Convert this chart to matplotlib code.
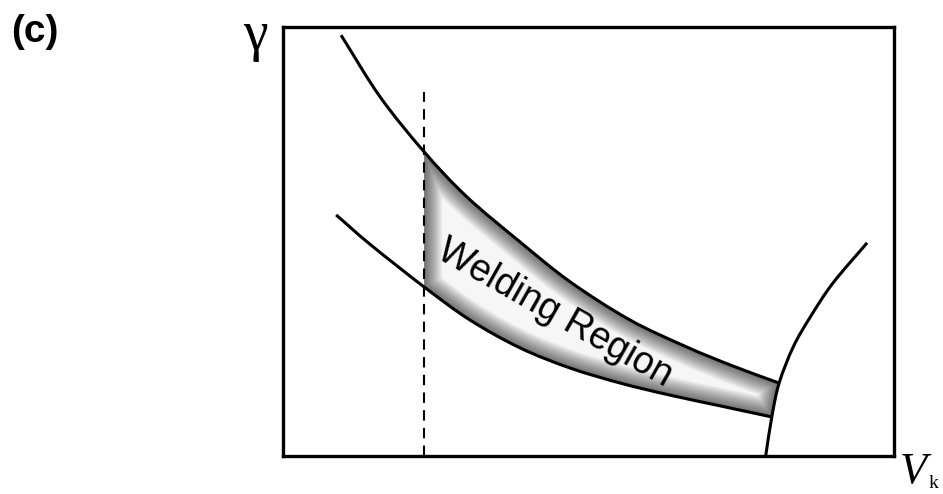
import numpy as np
import matplotlib.pyplot as plt
from matplotlib.path import Path
from matplotlib.patches import PathPatch

# curves (axes run 0..10 on both sides)
upper_x = [0.95, 1.59, 2.31, 3.01, 3.88, 4.70, 5.68, 6.61, 7.36, 8.12]
upper_y = [9.81, 8.37, 7.09, 6.04, 4.99, 4.06, 3.17, 2.54, 2.10, 1.70]

lower_x = [0.87, 1.42, 2.31, 3.06, 3.88, 4.70, 5.52, 6.33, 7.15, 8.00]
lower_y = [5.62, 4.94, 3.94, 3.17, 2.52, 2.05, 1.70, 1.42, 1.17, 0.91]

right_x = [7.90, 8.00, 8.12, 8.35, 8.63, 9.00, 9.56]
right_y = [0.00, 0.91, 1.70, 2.54, 3.24, 4.03, 4.97]

dash_x = 2.31
dash_top = 8.48

region_label = "Welding Region"


def bezier_segments(xs, ys):
    # Catmull-Rom tangents -> cubic bezier control points for each span
    p = np.column_stack([xs, ys]).astype(float)
    n = len(p)
    t = np.zeros_like(p)
    t[1:-1] = (p[2:] - p[:-2]) / 2
    t[0] = p[1] - p[0]
    t[-1] = p[-1] - p[-2]
    segs = []
    for i in range(n - 1):
        segs.append((p[i], p[i] + t[i] / 3, p[i + 1] - t[i + 1] / 3, p[i + 1]))
    return segs


def seg_path(segs, reverse=False, start=True):
    verts, codes = [], []
    if reverse:
        segs = [(s[3], s[2], s[1], s[0]) for s in segs[::-1]]
    for k, s in enumerate(segs):
        if k == 0 and start:
            verts.append(s[0])
            codes.append(Path.MOVETO)
        verts += [s[1], s[2], s[3]]
        codes += [Path.CURVE4] * 3
    return verts, codes


up_segs = bezier_segments(upper_x, upper_y)
lo_segs = bezier_segments(lower_x, lower_y)
rt_segs = bezier_segments(right_x, right_y)

fig = plt.figure(figsize=(9.43, 4.94), dpi=100)
ax = fig.add_axes([283 / 943, 38 / 494, 611 / 943, 429 / 494])
ax.set_xlim(0, 10)
ax.set_ylim(0, 10)
ax.set_xticks([])
ax.set_yticks([])
for s in ax.spines.values():
    s.set_linewidth(2.4)

# shaded band: upper curve from the dashed line, down the right curve,
# back along the lower curve, then up the dashed line
i0 = upper_x.index(dash_x)
j0 = lower_x.index(dash_x)
v1, c1 = seg_path(up_segs[i0:])
v2, c2 = seg_path(rt_segs[1:2], reverse=True, start=False)
v3, c3 = seg_path(lo_segs[j0:], reverse=True, start=False)
band_path = Path(v1 + v2 + v3 + [v1[0]], c1 + c2 + c3 + [Path.LINETO])

band = PathPatch(band_path, facecolor="#f6f6f6", edgecolor="none", zorder=1)
ax.add_patch(band)
# soft inner shadow: stack thin translucent strokes, clipped to the band
for lw in np.arange(26, 1, -1.5):
    edge = PathPatch(band_path, facecolor="none", edgecolor="black", lw=lw,
                     alpha=0.04, joinstyle="round", zorder=2)
    ax.add_patch(edge)
    edge.set_clip_path(band)

for segs in (up_segs, lo_segs, rt_segs):
    v, c = seg_path(segs)
    ax.add_patch(PathPatch(Path(v, c), facecolor="none", edgecolor="black",
                           lw=2.2, capstyle="butt", zorder=3))

ax.plot([dash_x, dash_x], [0, dash_top], color="black", lw=1.5,
        dashes=(5, 3.5), zorder=3)

ax.text(4.44, 3.32, region_label, rotation=-29.5, rotation_mode="anchor",
        ha="center", va="center", fontsize=27, family="Liberation Sans", zorder=4)

fig.text(11 / 943, 1 - 32 / 494, "(c)", fontsize=28, fontweight="bold",
         family="Liberation Sans", ha="left", va="center")
fig.text(255 / 943, 1 - 36 / 494, "γ", fontsize=40, family="Liberation Serif",
         ha="center", va="center")

# V with a small upright k right after it
v_txt = fig.text(900 / 943, 1 - 492 / 494, "V", fontsize=32, style="italic",
                 family="Liberation Serif", ha="left", va="bottom")
fig.canvas.draw()
v_box = v_txt.get_window_extent().transformed(fig.transFigure.inverted())
fig.text(v_box.x1 + 1 / 943, 1 - 492 / 494, "k", fontsize=14,
         family="Liberation Serif", ha="left", va="bottom")

fig.savefig("out.png", dpi=100)
